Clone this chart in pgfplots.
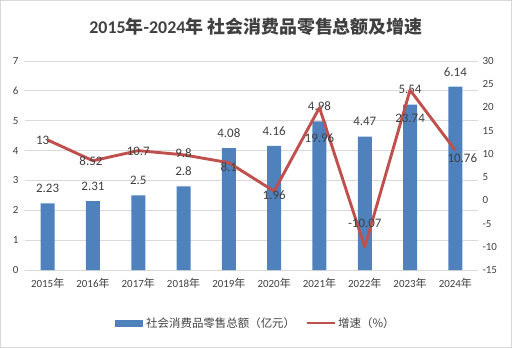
\documentclass[border=0pt]{standalone}
\usepackage{pgfplots}
\pgfplotsset{compat=1.18}
\usepackage{fontspec}
\setmainfont{Carlito}
\newfontfamily\cjk{Noto Sans CJK SC}
\newfontfamily\cjkb{Noto Sans CJK SC Bold}
\definecolor{barblue}{HTML}{4F81BD}
\definecolor{linered}{HTML}{C0504D}
\definecolor{txt}{HTML}{404040}
\pgfplotstableread{
x y
0 2.23
1 2.31
2 2.5
3 2.8
4 4.08
5 4.16
6 4.98
7 4.47
8 5.54
9 6.14
}\bars
\pgfplotstableread{
x y lab dx dy
0 13 13 -5 0
1 8.52 8.52 -2 0
2 10.7 10.7 0 -1
3 9.8 9.8 0 2
4 8.1 8.1 0 -4
5 1.96 1.96 0 -4
6 19.96 19.96 0 -31
7 -10.07 -10.07 0 24
8 23.74 23.74 0 -28
9 10.76 10.76 7 -8
}\growth
\begin{document}
\begin{tikzpicture}
\path[use as bounding box] (-25bp,-78bp) rectangle (487bp,270bp);
\draw[gray!30, line width=1.5bp] (-24.25bp,-77.25bp) rectangle (486.25bp,269.25bp);
\begin{axis}[
  at={(0,0)}, anchor=south west,
  scale only axis, width=453bp, height=209bp,
  xmin=-0.5, xmax=9.5, ymin=0, ymax=7,
  xtick={0,...,9},
  xticklabels={2015{\cjk 年},2016{\cjk 年},2017{\cjk 年},2018{\cjk 年},2019{\cjk 年},2020{\cjk 年},2021{\cjk 年},2022{\cjk 年},2023{\cjk 年},2024{\cjk 年}},
  ytick={0,...,7},
  ymajorgrids, major grid style={draw=gray!30, line width=0.8bp},
  axis line style={draw=none}, tick style={draw=none},
  axis y line*=left,
  ticklabel style={font=\fontsize{11}{12}\selectfont, text=txt},
  /pgf/number format/assume math mode=true,
  yticklabel style={xshift=-3bp},
  xticklabel style={yshift=-5bp},
  clip=false,
]
\addplot[ybar, bar width=14bp, fill=barblue, draw=none,
  nodes near coords, point meta=explicit symbolic,
  every node near coord/.append style={font=\fontsize{13}{14}\selectfont, text=txt, yshift=7bp}]
  table[x=x, y=y, meta=y] {\bars};
\end{axis}
\begin{axis}[
  at={(0,0)}, anchor=south west,
  scale only axis, width=453bp, height=209bp,
  xmin=-0.5, xmax=9.5, ymin=-15, ymax=30,
  ytick={-15,-10,...,30},
  axis y line*=right, axis x line=none,
  axis line style={draw=none}, tick style={draw=none},
  ticklabel style={font=\fontsize{11}{12}\selectfont, text=txt},
  /pgf/number format/assume math mode=true,
  yticklabel style={xshift=1bp},
  clip=false,
]
\addplot[linered, line width=2.9bp, line join=round,
  nodes near coords, point meta=explicit symbolic,
  visualization depends on={\thisrow{dx}\as\dx},
  visualization depends on={\thisrow{dy}\as\dy},
  every node near coord/.append style={font=\fontsize{13}{14}\selectfont, text=txt, anchor=center, xshift=\dx pt, yshift=\dy pt}]
  table[x=x, y=y, meta=lab] {\growth};
\end{axis}
\node[font=\fontsize{18}{20}\selectfont\bfseries, text=txt] at (231bp,243bp) {2015{\cjkb 年}-2024{\cjkb 年} {\cjkb 社会消费品零售总额及增速}};
\fill[barblue] (90bp,-56.5bp) rectangle (118bp,-49.5bp);
\node[anchor=west, font=\cjk\fontsize{11.5}{13}\selectfont, text=txt, inner sep=0pt] at (121bp,-53bp) {社会消费品零售总额（亿元）};
\draw[linered, line width=2.9bp] (282bp,-53bp) -- (310bp,-53bp);
\node[anchor=west, font=\cjk\fontsize{11.5}{13}\selectfont, text=txt, inner sep=0pt] at (313bp,-53bp) {增速（\%）};
\end{tikzpicture}
\end{document}
